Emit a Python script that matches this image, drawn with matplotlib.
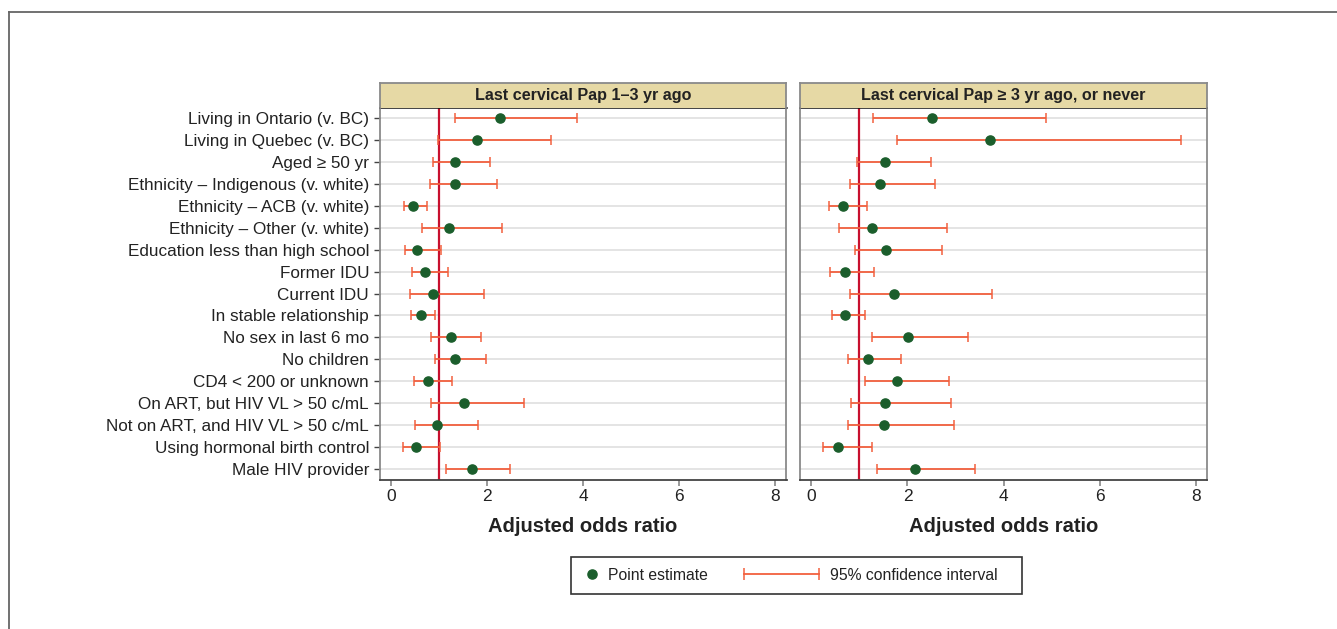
import matplotlib
matplotlib.use("Agg")
import matplotlib.pyplot as plt
from matplotlib.lines import Line2D
from matplotlib.patches import Rectangle
from matplotlib.legend_handler import HandlerLine2D

plt.rcParams['font.family'] = ['Liberation Sans', 'DejaVu Sans']

labels = [
    "Living in Ontario (v. BC)",
    "Living in Quebec (v. BC)",
    "Aged \u2265 50 yr",
    "Ethnicity \u2013 Indigenous (v. white)",
    "Ethnicity \u2013 ACB (v. white)",
    "Ethnicity \u2013 Other (v. white)",
    "Education less than high school",
    "Former IDU",
    "Current IDU",
    "In stable relationship",
    "No sex in last 6 mo",
    "No children",
    "CD4 < 200 or unknown",
    "On ART, but HIV VL > 50 c/mL",
    "Not on ART, and HIV VL > 50 c/mL",
    "Using hormonal birth control",
    "Male HIV provider",
]

# panel 1: last Pap 1-3 yr ago
est_1 = [2.28, 1.80, 1.34, 1.34, 0.46, 1.22, 0.55, 0.72, 0.87,
         0.62, 1.25, 1.34, 0.78, 1.52, 0.97, 0.52, 1.69]
low_1 = [1.34, 0.99, 0.87, 0.82, 0.28, 0.65, 0.30, 0.44, 0.39,
         0.42, 0.83, 0.91, 0.48, 0.84, 0.51, 0.26, 1.15]
high_1 = [3.88, 3.33, 2.06, 2.20, 0.76, 2.31, 1.05, 1.19, 1.93,
          0.92, 1.87, 1.97, 1.28, 2.76, 1.81, 1.03, 2.48]

# panel 2: last Pap >= 3 yr ago, or never
est_2 = [2.51, 3.71, 1.54, 1.43, 0.66, 1.27, 1.56, 0.71, 1.73,
         0.70, 2.02, 1.18, 1.78, 1.54, 1.52, 0.55, 2.15]
low_2 = [1.29, 1.79, 0.96, 0.80, 0.37, 0.57, 0.90, 0.39, 0.80,
         0.43, 1.26, 0.76, 1.12, 0.82, 0.77, 0.24, 1.36]
high_2 = [4.88, 7.68, 2.48, 2.58, 1.16, 2.83, 2.71, 1.31, 3.76,
          1.12, 3.26, 1.86, 2.86, 2.91, 2.97, 1.27, 3.41]

titles = ["Last cervical Pap 1\u20133 yr ago",
          "Last cervical Pap \u2265 3 yr ago, or never"]
xticks = [0, 2, 4, 6, 8]

green = '#1b5e2c'
ci_col = '#f2603e'
ref_col = '#c8102e'
text_col = '#222222'

W, H = 1337, 629
fig = plt.figure(figsize=(W / 100, H / 100), dpi=100)


def fx(px):
    return px / W


def fy(py):
    return 1 - py / H


# outer frame (partial box as in the source image)
fig.add_artist(Line2D([fx(8.5), 1.0], [fy(12), fy(12)], color='#666666', lw=1.3))
fig.add_artist(Line2D([fx(8.5), fx(8.5)], [fy(12), 0.0], color='#666666', lw=1.3))

panels = [(est_1, low_1, high_1), (est_2, low_2, high_2)]
lefts = [379.5, 800]
rows = list(range(len(labels)))

for i, (est, low, high) in enumerate(panels):
    left = lefts[i]
    ax = fig.add_axes([fx(left), fy(480), fx(407), fy(107.5) - fy(480)])
    for r in rows:
        ax.axhline(r, color='#e2e2e2', lw=1.3, zorder=1)
    ax.axvline(1, color=ref_col, lw=1.6, zorder=2)
    xerr = [[e - l for e, l in zip(est, low)], [h - e for e, h in zip(est, high)]]
    ax.errorbar(est, rows, xerr=xerr, fmt='none', ecolor=ci_col, elinewidth=1.3,
                capsize=3.3, capthick=1.1, zorder=3)
    ax.plot(est, rows, 'o', color=green, markersize=6.6, zorder=4)

    ax.set_xlim(-0.235, 8.23)
    ax.set_ylim(len(labels) - 0.5, -0.48)
    ax.set_xticks(xticks)
    ax.set_xticklabels([str(t) for t in xticks], fontsize=12.5, color=text_col)
    ax.tick_params(axis='x', length=4.5, width=1.2, color='#888888', pad=2)
    ax.set_xlabel("Adjusted odds ratio", fontsize=14.5, fontweight='bold',
                  color=text_col, labelpad=9)
    ax.set_yticks(rows)
    if i == 0:
        ax.set_yticklabels(labels, fontsize=12.3, color=text_col)
        ax.tick_params(axis='y', length=4.5, width=1, color='#444444', pad=3)
    else:
        ax.set_yticklabels([])
        ax.tick_params(axis='y', length=0)
    for side in ['left', 'right']:
        ax.spines[side].set_color('#8a8a8a')
        ax.spines[side].set_linewidth(1.3)
    ax.spines['top'].set_color('#111111')
    ax.spines['top'].set_linewidth(1.1)
    ax.spines['bottom'].set_color('#444444')
    ax.spines['bottom'].set_linewidth(1.3)

    # strip title
    sx = fig.add_axes([fx(left), fy(107.5), fx(407), fy(83) - fy(107.5)])
    sx.set_facecolor('#e6d9a5')
    sx.set_xticks([])
    sx.set_yticks([])
    for side in ['left', 'right', 'top']:
        sx.spines[side].set_color('#8a8a8a')
        sx.spines[side].set_linewidth(1.3)
    sx.spines['bottom'].set_visible(False)
    sx.text(0.5, 0.5, titles[i], transform=sx.transAxes, ha='center', va='center',
            fontsize=11.6, fontweight='bold', color=text_col)

# legend
fig.add_artist(Rectangle((fx(571), fy(594)), fx(451), fy(557) - fy(594),
                         transform=fig.transFigure, fill=False,
                         edgecolor='#333333', lw=1.2))
pt_handle = Line2D([], [], marker='o', linestyle='none', color=green, markersize=6.6)
ci_handle = Line2D([], [], color=ci_col, lw=1.3, marker='|', markersize=9,
                   markeredgewidth=1.1)
leg1 = fig.legend([pt_handle], ["Point estimate"], loc='center left',
                  bbox_to_anchor=(fx(584), fy(575)), frameon=False, borderpad=0,
                  borderaxespad=0, handlelength=1.0, handletextpad=0.53,
                  numpoints=1, prop={'size': 11.3})
leg2 = fig.legend([ci_handle], ["95% confidence interval"], loc='center left',
                  bbox_to_anchor=(fx(744), fy(575)), frameon=False, borderpad=0,
                  borderaxespad=0, handlelength=4.77, handletextpad=0.74,
                  handler_map={ci_handle: HandlerLine2D(numpoints=2, marker_pad=0)},
                  prop={'size': 11.3})
for leg in (leg1, leg2):
    for t in leg.get_texts():
        t.set_color(text_col)

fig.savefig("out.png", dpi=100)
